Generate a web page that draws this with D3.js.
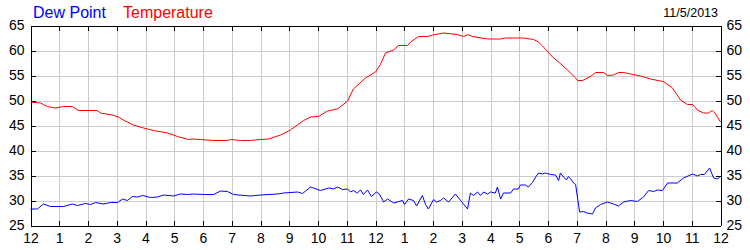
<!DOCTYPE html>
<html>
<head>
<meta charset="utf-8">
<script src="https://cdn.jsdelivr.net/npm/d3@7"></script>
<style>
  body { margin: 0; background: #fff; }
  svg { display: block; font-family: "Liberation Sans", Arial, sans-serif; }
  .grid line { stroke: #cccccc; shape-rendering: crispEdges; }
  .grid path { display: none; }
  .axis path, .axis line { stroke: #000; shape-rendering: crispEdges; }
  .axis text { font-size: 14px; fill: #000; }
</style>
</head>
<body>
<script>
// hours since midnight (0..24) and readings
var tempHours = [0, 0.35, 0.58, 0.87, 1.15, 1.45, 1.67, 2.32, 2.43, 2.84, 3.06, 3.23, 3.58, 3.93, 4.28, 4.77,
  5.11, 5.5, 5.67, 5.91, 6.37, 6.85, 6.96, 7.3, 7.65, 8.0, 8.28, 8.7, 9.04, 9.5, 9.74, 10.02, 10.33, 10.68,
  11.03, 11.23, 11.65, 12.0, 12.17, 12.35, 12.63, 12.8, 13.11, 13.22, 13.5, 13.81, 13.98, 14.37, 14.85, 15.06,
  15.23, 15.37, 15.9, 16.35, 16.52, 17.15, 17.5, 17.67, 17.91, 18.16, 18.37, 18.68, 18.96, 19.03, 19.2, 19.48,
  19.65, 19.93, 20.07, 20.28, 20.45, 20.63, 20.87, 21.22, 21.57, 21.91, 22.02, 22.33, 22.61, 22.85, 23.03,
  23.2, 23.41, 23.58, 23.72, 23.83, 24.0];
var tempValues = [49.7, 49.5, 48.8, 48.5, 48.8, 48.8, 48.0, 48.0, 47.5, 47.1, 46.7, 46.1, 45.1, 44.5, 44.0, 43.5,
  42.8, 42.2, 42.3, 42.2, 42.0, 42.0, 42.2, 42.0, 42.0, 42.2, 42.3, 43.1, 44.1, 46.0, 46.7, 46.8, 47.9, 48.3,
  49.9, 52.3, 54.5, 55.7, 57.2, 59.5, 60.1, 61.0, 61.0, 61.7, 62.8, 62.8, 63.1, 63.5, 63.2, 62.8,
  63.2, 62.8, 62.3, 62.3, 62.5, 62.5, 62.2, 61.7, 60.3, 58.7, 57.7, 56.1, 54.5, 54.0, 54.0, 54.8,
  55.6, 55.6, 55.0, 55.1, 55.6, 55.6, 55.3, 54.9, 54.3, 53.9, 53.8, 52.5, 50.1, 49.2, 49.2,
  48.1, 47.5, 47.5, 48.0, 47.3, 45.7];

var dewHours = [0, 0.24, 0.45, 0.7, 1.15, 1.46, 1.63, 1.91, 2.09, 2.26, 2.54, 2.78, 3.03, 3.2, 3.37, 3.55, 3.72,
  3.9, 4.17, 4.42, 4.63, 4.97, 5.22, 5.46, 5.67, 6.02, 6.37, 6.61, 6.85, 7.06, 7.65, 8.0, 8.59, 8.8, 9.29, 9.46,
  9.74, 10.09, 10.37, 10.54, 10.68, 10.85, 11.03, 11.13, 11.23, 11.37, 11.48, 11.58, 11.72, 11.86, 12.03, 12.14,
  12.28, 12.42, 12.63, 12.94, 13.01, 13.15, 13.32, 13.43, 13.63, 13.74, 13.84, 14.02, 14.12, 14.26, 14.37, 14.54,
  14.78, 14.96, 15.2, 15.3, 15.41, 15.55, 15.65, 15.76, 15.9, 16.0, 16.17, 16.24, 16.35, 16.45, 16.7, 16.8, 16.97,
  17.04, 17.22, 17.32, 17.46, 17.57, 17.67, 17.81, 17.91, 18.09, 18.26, 18.37, 18.43, 18.54, 18.64, 18.71, 18.82,
  18.89, 18.96, 19.1, 19.23, 19.37, 19.55, 19.65, 19.83, 20.07, 20.28, 20.45, 20.63, 20.87, 21.11, 21.32, 21.5,
  21.67, 21.81, 21.98, 22.16, 22.5, 22.71, 23.03, 23.2, 23.3, 23.44, 23.62, 23.76, 23.9, 24.0];
var dewValues = [28.3, 28.3, 29.3, 28.8, 28.8, 29.3, 29.0, 29.4, 29.2, 29.6, 29.3, 29.6, 29.6, 30.3, 30.0, 30.8, 30.7,
  31.0, 30.6, 30.7, 31.1, 30.9, 31.3, 31.2, 31.3, 31.2, 31.2, 31.9, 31.8, 31.2, 30.9, 31.1, 31.3, 31.5, 31.7, 31.4,
  32.7, 32.0, 32.5, 32.3, 32.7, 32.2, 32.3, 31.7, 32.0, 31.5, 32.1, 31.2, 32.1, 30.8, 31.7, 31.3,
  29.7, 30.3, 29.5, 30.0, 29.2, 30.3, 30.0, 28.9, 31.0, 29.2, 28.3, 30.2, 29.7, 30.0, 30.5, 29.7,
  31.3, 30.0, 28.3, 31.5, 31.0, 31.7, 31.0, 31.7, 31.3, 31.7, 31.5, 32.7, 30.3, 31.5, 31.5, 32.3, 32.3,
  33.1, 33.1, 32.7, 33.6, 34.7, 35.5, 35.3, 35.5, 35.2, 35.1, 34.0, 35.5, 34.7, 34.1, 34.8, 34.1,
  33.5, 33.2, 27.7, 27.8, 27.5, 27.3, 28.5, 29.2, 29.7, 29.3, 28.9, 29.7, 30.0, 29.8, 30.7, 32.0,
  31.8, 32.1, 32.0, 33.5, 33.5, 34.5, 35.3, 34.9, 35.2, 35.2, 36.5, 34.5, 34.3, 34.9];

var hourTicks = d3.range(0, 25);
var yTicks = [25, 30, 35, 40, 45, 50, 55, 60, 65];
var seriesNames = ["Dew Point", "Temperature"];
var seriesColors = ["#0000ff", "#ff0000"];
var dateLabel = "11/5/2013";

var width = 750, height = 250;
var plotLeft = 30, plotRight = 720, plotTop = 25, plotBottom = 225;

var svg = d3.select("body").append("svg")
  .attr("width", width)
  .attr("height", height);

var x = d3.scaleLinear().domain([0, 24]).range([plotLeft + 0.5, plotRight + 0.5]);
var y = d3.scaleLinear().domain([25, 65]).range([plotBottom + 0.5, plotTop + 0.5]);

// gridlines
svg.append("g").attr("class", "grid")
  .attr("transform", "translate(0," + (plotBottom + 0.5) + ")")
  .call(d3.axisBottom(x).tickValues(hourTicks.slice(1, -1)).tickSize(-(plotBottom - plotTop)).tickFormat(""));
svg.append("g").attr("class", "grid")
  .attr("transform", "translate(" + (plotLeft + 0.5) + ",0)")
  .call(d3.axisLeft(y).tickValues(yTicks.slice(1, -1)).tickSize(-(plotRight - plotLeft)).tickFormat(""));

function hourLabel(h) {
  return h % 12 === 0 ? "12" : String(h % 12);
}

// axes, ticks pointing inward
svg.append("g").attr("class", "axis")
  .attr("transform", "translate(0," + (plotBottom + 0.5) + ")")
  .call(d3.axisBottom(x).tickValues(hourTicks).tickSizeInner(-5).tickSizeOuter(0).tickPadding(8).tickFormat(hourLabel));
svg.append("g").attr("class", "axis")
  .attr("transform", "translate(0," + (plotTop + 0.5) + ")")
  .call(d3.axisTop(x).tickValues(hourTicks).tickSizeInner(-5).tickSizeOuter(0).tickFormat(""));
svg.append("g").attr("class", "axis")
  .attr("transform", "translate(" + (plotLeft + 0.5) + ",0)")
  .call(d3.axisLeft(y).tickValues(yTicks).tickSizeInner(-5).tickSizeOuter(0).tickPadding(6));
svg.append("g").attr("class", "axis")
  .attr("transform", "translate(" + (plotRight + 0.5) + ",0)")
  .call(d3.axisRight(y).tickValues(yTicks).tickSizeInner(-5).tickSizeOuter(0).tickPadding(6));

var line = d3.line()
  .x(function(d) { return x(d[0]); })
  .y(function(d) { return y(d[1]); });

svg.append("path")
  .datum(d3.zip(dewHours, dewValues))
  .attr("fill", "none")
  .attr("stroke", seriesColors[0])
  .attr("stroke-width", 1)
  .attr("d", line);

svg.append("path")
  .datum(d3.zip(tempHours, tempValues))
  .attr("fill", "none")
  .attr("stroke", seriesColors[1])
  .attr("stroke-width", 1)
  .attr("d", line);

// legend
svg.append("text").attr("x", 33).attr("y", 18)
  .attr("font-size", 16).attr("fill", seriesColors[0]).text(seriesNames[0]);
svg.append("text").attr("x", 123).attr("y", 18)
  .attr("font-size", 16).attr("fill", seriesColors[1]).text(seriesNames[1]);

svg.append("text").attr("x", 718).attr("y", 17)
  .attr("font-size", 12.5).attr("text-anchor", "end").attr("fill", "#000").text(dateLabel);
</script>
</body>
</html>
